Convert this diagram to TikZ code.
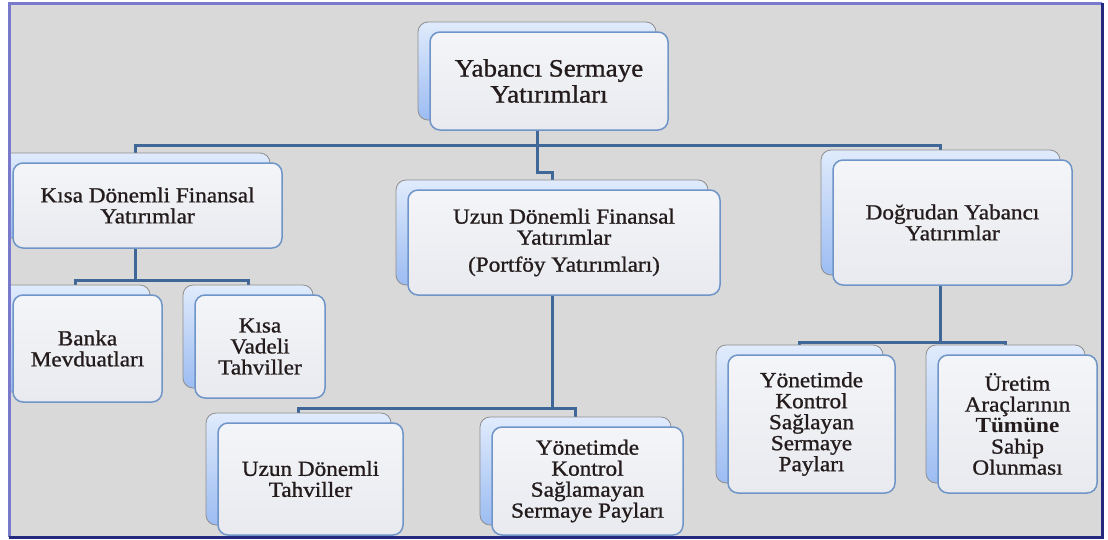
\documentclass[tikz,border=0pt]{standalone}
\usepackage{fontspec}
\setmainfont{Liberation Serif}[FakeStretch=1.08,UprightFeatures={FakeBold=1.0}]
\usepackage{xcolor}
\usetikzlibrary{calc}

\definecolor{zeminrenk}{HTML}{D9D9D9}
\definecolor{cerceveacik}{HTML}{7A7ACC}
\definecolor{cercevekoyu}{HTML}{23297F}
\definecolor{hatrenk}{HTML}{3F6898}
\definecolor{arkaust}{HTML}{E0EBFC}
\definecolor{arkaalt}{HTML}{9CBCF2}
\definecolor{arkacizgi}{HTML}{8E8E8E}
\definecolor{onust}{HTML}{F4F5F8}
\definecolor{onalt}{HTML}{E8EAEF}
\definecolor{oncizgi}{HTML}{6F95C8}
\definecolor{yazi}{HTML}{241C1C}

\pgfdeclarelayer{zemin}
\pgfdeclarelayer{hat}
\pgfsetlayers{zemin,hat,main}

\begin{document}
\begin{tikzpicture}[x=1pt,y=-1pt,
    arka/.style={rectangle,rounded corners=10pt,draw=arkacizgi,line width=0.8pt,top color=arkaust,bottom color=arkaalt},
    on/.style={rectangle,rounded corners=10pt,draw=oncizgi,line width=1.5pt,top color=onust,bottom color=onalt,
        align=center,inner sep=2pt,text=yazi,font=\fontsize{21.5}{21}\selectfont},
    baglanti/.style={draw=hatrenk,line width=3pt}]

    \useasboundingbox (0,0) rectangle (1108,539);
    \begin{pgfonlayer}{zemin}
        \fill[zeminrenk] (9,3) rectangle (1102,537);
    \end{pgfonlayer}

    \begin{scope}
        \clip (10.5,4.5) rectangle (1100.5,535.5);

        % ust seviye
        \node[arka, minimum width=238, minimum height=98] (ust-b) at (537,71) {};
        \node[on, minimum width=238, minimum height=98, font=\fontsize{25}{26}\selectfont] (ust) at ([shift={(12,10)}]ust-b.center) {Yabancı Sermaye\\Yatırımları};

        % ikinci seviye
        \node[arka, minimum width=269, minimum height=85] (kisa-b) at (135.5,195.5) {};
        \node[on, minimum width=269, minimum height=85] (kisa) at ([shift={(12,10)}]kisa-b.center) {Kısa Dönemli Finansal\\Yatırımlar};

        \node[arka, minimum width=312, minimum height=105] (uzun-b) at (552,232.5) {};
        \node[on, minimum width=312, minimum height=105] (uzun) at ([shift={(12,10)}]uzun-b.center) {Uzun Dönemli Finansal\\Yatırımlar\\[6pt](Portföy Yatırımları)};

        \node[arka, minimum width=239, minimum height=125] (dogrudan-b) at (940.5,212.5) {};
        \node[on, minimum width=239, minimum height=125] (dogrudan) at ([shift={(12,10)}]dogrudan-b.center) {Doğrudan Yabancı\\Yatırımlar};

        % alt seviye
        \node[arka, minimum width=149, minimum height=107] (banka-b) at (75.5,338.5) {};
        \node[on, minimum width=149, minimum height=107] (banka) at ([shift={(12,10)}]banka-b.center) {Banka\\Mevduatları};

        \node[arka, minimum width=130, minimum height=103] (kvt-b) at (248,336.5) {};
        \node[on, minimum width=130, minimum height=103] (kvt) at ([shift={(12,10)}]kvt-b.center) {Kısa\\Vadeli\\Tahviller};

        \node[arka, minimum width=185, minimum height=112] (udt-b) at (298.5,469) {};
        \node[on, minimum width=185, minimum height=112] (udt) at ([shift={(12,10)}]udt-b.center) {Uzun Dönemli\\Tahviller};

        \node[arka, minimum width=191, minimum height=108] (yksz-b) at (575.5,471) {};
        \node[on, minimum width=191, minimum height=108] (yksz) at ([shift={(12,10)}]yksz-b.center) {Yönetimde\\Kontrol\\Sağlamayan\\Sermaye Payları};

        \node[arka, minimum width=167, minimum height=138] (yks-b) at (799.5,414) {};
        \node[on, minimum width=167, minimum height=138] (yks) at ([shift={(12,10)}]yks-b.center) {Yönetimde\\Kontrol\\Sağlayan\\Sermaye\\Payları};

        \node[arka, minimum width=159, minimum height=138] (uret-b) at (1005.5,414) {};
        \node[on, minimum width=159, minimum height=138] (uret) at ([shift={(12,10)}]uret-b.center) {Üretim\\Araçlarının\\\textbf{Tümüne}\\Sahip\\Olunması};
    \end{scope}

    % baglantilar
    \begin{pgfonlayer}{hat}
        \draw[baglanti] (ust-b.south) -- ++(0,25) coordinate (ana);
        \draw[baglanti] (ana) -| (kisa-b.north);
        \draw[baglanti] (ana) -| (dogrudan-b.north);
        \draw[baglanti] (ana) -- ++(0,27) -| (uzun-b.north);

        \draw[baglanti] (kisa-b.south) -- ++(0,42) coordinate (k1);
        \draw[baglanti] (k1) -| (banka-b.north);
        \draw[baglanti] (k1) -| (kvt-b.north);

        \draw[baglanti] (uzun-b.south) -- ++(0,123) coordinate (u1);
        \draw[baglanti] (u1) -| (udt-b.north);
        \draw[baglanti] (u1) -| (yksz-b.north);

        \draw[baglanti] (dogrudan-b.south) -- ++(0,67) coordinate (d1);
        \draw[baglanti] (d1) -| (yks-b.north);
        \draw[baglanti] (d1) -| (uret-b.north);
    \end{pgfonlayer}

    % cerceve
    \draw[cerceveacik, line width=3pt] (9,537) -- (9,3) -- (1102,3);
    \draw[cercevekoyu, line width=3pt] (1102,3) -- (1102,537) -- (9,537);
\end{tikzpicture}
\end{document}
